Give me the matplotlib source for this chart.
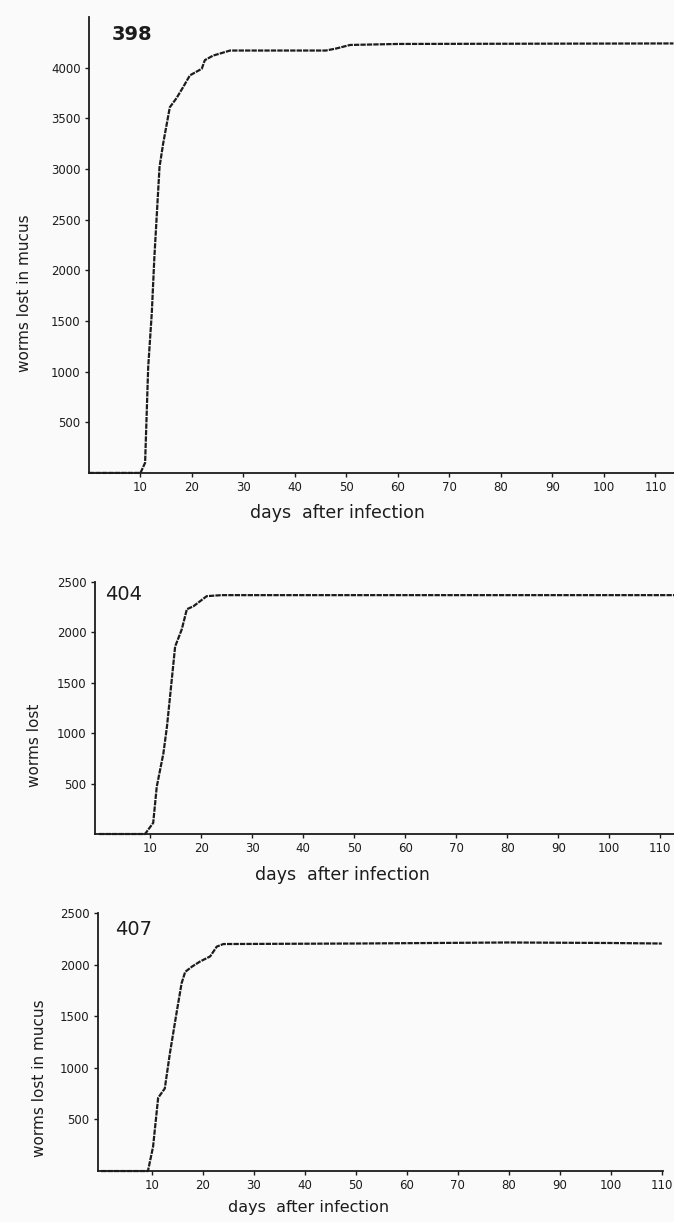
import matplotlib.pyplot as plt

# cumulative worms lost
days_398 = [0, 10, 10.9, 11.5, 12.2, 12.7, 13.7, 14.4, 15.7, 17.0, 18.3, 19.6, 21.9, 22.5, 24.1, 27.4, 46, 48, 50.7, 60, 113.5]
lost_398 = [0, 0, 100, 1045, 1580, 2130, 3020, 3250, 3610, 3700, 3810, 3925, 3990, 4075, 4120, 4170, 4170, 4190, 4225, 4235, 4240]

days_404 = [0, 9, 10.6, 11.3, 12.6, 13.3, 14.3, 14.9, 16.2, 17.2, 18.5, 19.8, 21.1, 24, 112.7]
lost_404 = [0, 0, 110, 470, 800, 1065, 1560, 1860, 2030, 2230, 2260, 2310, 2360, 2370, 2370]

days_407 = [0, 9.2, 10.2, 11.2, 12.5, 13.5, 14.8, 15.8, 16.5, 17.8, 19.4, 21.4, 22.7, 24, 50, 80, 100, 110]
lost_407 = [0, 0, 235, 710, 800, 1140, 1530, 1820, 1930, 1980, 2030, 2080, 2175, 2200, 2205, 2215, 2210, 2205]

x_ticks = [10, 20, 30, 40, 50, 60, 70, 80, 90, 100, 110]

INK = "#1c1c1c"
BG = "#fafafa"

plt.rcParams.update({
    "font.family": ["DejaVu Sans"],
    "axes.linewidth": 1.3,
    "axes.edgecolor": INK,
    "xtick.color": INK,
    "ytick.color": INK,
})

fig = plt.figure(figsize=(6.74, 12.22), dpi=100, facecolor=BG)

panels = [
    # id, days, values, axes rect, xlim, ylim top, yticks, ylabel, ylabel pos, xlabel pos, xlabel size, tag pos
    ("398", days_398, lost_398, [0.132, 0.613, 0.868, 0.373], (0, 113.6), 4500,
     [500, 1000, 1500, 2000, 2500, 3000, 3500, 4000], "worms lost in mucus",
     (-0.097, 0.395), (0.424, -0.068), 12.5, (0.039, 0.982), "bold"),
    ("404", days_404, lost_404, [0.141, 0.3175, 0.859, 0.2062], (-0.8, 112.7), 2500,
     [500, 1000, 1500, 2000, 2500], "worms lost",
     (-0.092, 0.353), (0.428, -0.127), 12.5, (0.017, 0.99), "normal"),
    ("407", days_407, lost_407, [0.1454, 0.0417, 0.838, 0.2111], (-0.6, 110.2), 2500,
     [500, 1000, 1500, 2000, 2500], "worms lost in mucus",
     (-0.09, 0.36), (0.372, -0.112), 11.5, (0.03, 0.975), "normal"),
]

for tag, days, vals, rect, xlim, ytop, yticks, ylab, ylpos, xlpos, xlsize, tpos, tweight in panels:
    ax = fig.add_axes(rect)
    ax.set_facecolor(BG)
    ax.plot(days, vals, color=INK, linewidth=1.6, linestyle=(0, (2.4, 0.5)),
            solid_capstyle="butt", clip_on=False)
    ax.set_xlim(*xlim)
    ax.set_ylim(0, ytop)
    ax.spines["top"].set_visible(False)
    ax.spines["right"].set_visible(False)
    ax.set_xticks(x_ticks)
    ax.set_yticks(yticks)
    ax.tick_params(direction="out", length=3, width=1.0, labelsize=8.5, pad=3)
    ax.set_ylabel(ylab, fontsize=11, color=INK)
    ax.yaxis.set_label_coords(*ylpos)
    ax.set_xlabel("days  after infection", fontsize=xlsize, color=INK)
    ax.xaxis.set_label_coords(*xlpos)
    ax.text(tpos[0], tpos[1], tag, transform=ax.transAxes, ha="left", va="top",
            fontsize=14, fontweight=tweight, color=INK)

fig.savefig("out.png", dpi=100, facecolor=BG)
